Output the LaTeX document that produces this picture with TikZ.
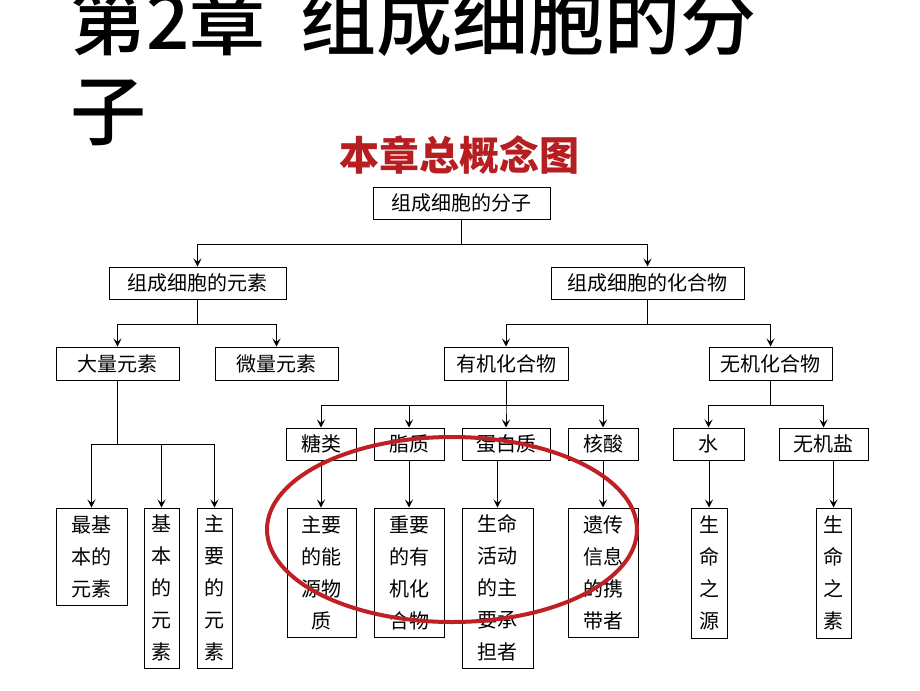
\documentclass[tikz,border=0pt]{standalone}
\usepackage{fontspec}
\newfontfamily\cjk{Noto Sans CJK SC}
\IfFontExistsTF{Noto Sans CJK SC Medium}{\newfontfamily\cjktitle{Noto Sans CJK SC Medium}}{\newfontfamily\cjktitle{Noto Sans CJK SC}[UprightFont=*-Bold]}
\usetikzlibrary{arrows.meta}
\definecolor{ringred}{RGB}{192,32,36}

\begin{document}
\begin{tikzpicture}[x=0.75pt,y=-0.75pt]
			\tikzset{cbox/.style 2 args={draw, line width=0.75pt, inner sep=0pt, align=center, minimum width=#1*0.75pt, minimum height=#2*0.75pt, font=\cjk\fontsize{15}{24}\selectfont}}
			\tikzset{arr/.style={line width=0.75pt, -{Stealth[length=6pt,width=6pt,inset=2.5pt]}}}
			\useasboundingbox (0,0) rectangle (920,690);

			\draw (70,49) node [anchor=base west, inner sep=0pt, font=\cjktitle\fontsize{57}{68}\selectfont] (TITLE) {第2章\hspace{26pt}组成细胞的分};
			\draw (70,139) node [anchor=base west, inner sep=0pt, font=\cjktitle\fontsize{57}{68}\selectfont] (TITLE2) {子};
			\draw (459,155) node [text=ringred!95!black, font=\cjk\bfseries\fontsize{30}{36}\selectfont] (SUB) {本章总概念图};

			\draw (461.5,203) node [cbox={177}{32}] (MOL) {组成细胞的分子};

			\draw (197.5,283) node [cbox={177}{32}] (ELEM) {组成细胞的元素};
			\draw (647.5,283) node [cbox={193}{32}] (COMP) {组成细胞的化合物};

			\draw (117.5,363.5) node [cbox={123}{33}] (MAJOR) {大量元素};
			\draw (276.5,363.5) node [cbox={123}{33}] (TRACE) {微量元素};
			\draw (506,363.5) node [cbox={124}{33}] (ORG) {有机化合物};
			\draw (770.5,363.5) node [cbox={123}{33}] (INORG) {无机化合物};

			\draw (321,444) node [cbox={70}{32}] (SUG) {糖类};
			\draw (409,444) node [cbox={70}{32}] (LIP) {脂质};
			\draw (506,444) node [cbox={88}{32}] (PRO) {蛋白质};
			\draw (603,444) node [cbox={70}{32}] (NUC) {核酸};
			\draw (708.5,444) node [cbox={71}{32}] (WAT) {水};
			\draw (823.5,444) node [cbox={89}{32}] (SALT) {无机盐};

			\draw (91.5,556.5) node [cbox={71}{97}] (BASIC) {最基\\本的\\元素};
			\draw (161.5,588) node [cbox={35}{160}] (BASE) {基\\本\\的\\元\\素};
			\draw (214.5,588) node [cbox={35}{160}] (MAIN) {主\\要\\的\\元\\素};

			\draw (321.5,572.5) node [cbox={69}{129}] (SUGF) {主要\\的能\\源物\\质};
			\draw (409,572.5) node [cbox={70}{129}] (LIPF) {重要\\的有\\机化\\合物};
			\draw (497.5,588) node [cbox={71}{160}] (PROF) {生命\\活动\\的主\\要承\\担者};
			\draw (603,572.5) node [cbox={70}{129}] (NUCF) {遗传\\信息\\的携\\带者};
			\draw (709,573) node [cbox={36}{130}] (WATF) {生\\命\\之\\源};
			\draw (833.5,573) node [cbox={35}{130}] (SALTF) {生\\命\\之\\素};

			\draw[arr] (MOL.south) -- ++(0,25) -| (ELEM.north);
			\draw[arr] (MOL.south) -- ++(0,25) -| (COMP.north);

			\draw[arr] (ELEM.south) -- ++(0,25) -| (MAJOR.north);
			\draw[arr] (ELEM.south) -- ++(0,25) -| (TRACE.north);
			\draw[arr] (COMP.south) -- ++(0,25) -| (ORG.north);
			\draw[arr] (COMP.south) -- ++(0,25) -| (INORG.north);

			\draw[arr] (MAJOR.south) -- ++(0,64) -| (BASIC.north);
			\draw[arr] (MAJOR.south) -- ++(0,64) -| (BASE.north);
			\draw[arr] (MAJOR.south) -- ++(0,64) -| (MAIN.north);

			\draw[arr] (ORG.south) -- ++(0,25) -| (SUG.north);
			\draw[arr] (ORG.south) -- ++(0,25) -| (LIP.north);
			\draw[arr] (ORG.south) -- ++(0,25) -| (PRO.north);
			\draw[arr] (ORG.south) -- ++(0,25) -| (NUC.north);
			\draw[arr] (INORG.south) -- ++(0,25) -| (WAT.north);
			\draw[arr] (INORG.south) -- ++(0,25) -| (SALT.north);

			\draw[arr] (SUG.south) -- (SUG.south|-SUGF.north);
			\draw[arr] (LIP.south) -- (LIPF.north);
			\draw[arr] (PRO.south-|PROF.north) -- (PROF.north);
			\draw[arr] (NUC.south) -- (NUCF.north);
			\draw[arr] (WAT.south-|WATF.north) -- (WATF.north);
			\draw[arr] (SALT.south-|SALTF.north) -- (SALTF.north);

			\draw[ringred, line width=3pt] (452,529.5) ellipse [x radius=185, y radius=92.5];
		\end{tikzpicture}
\end{document}
